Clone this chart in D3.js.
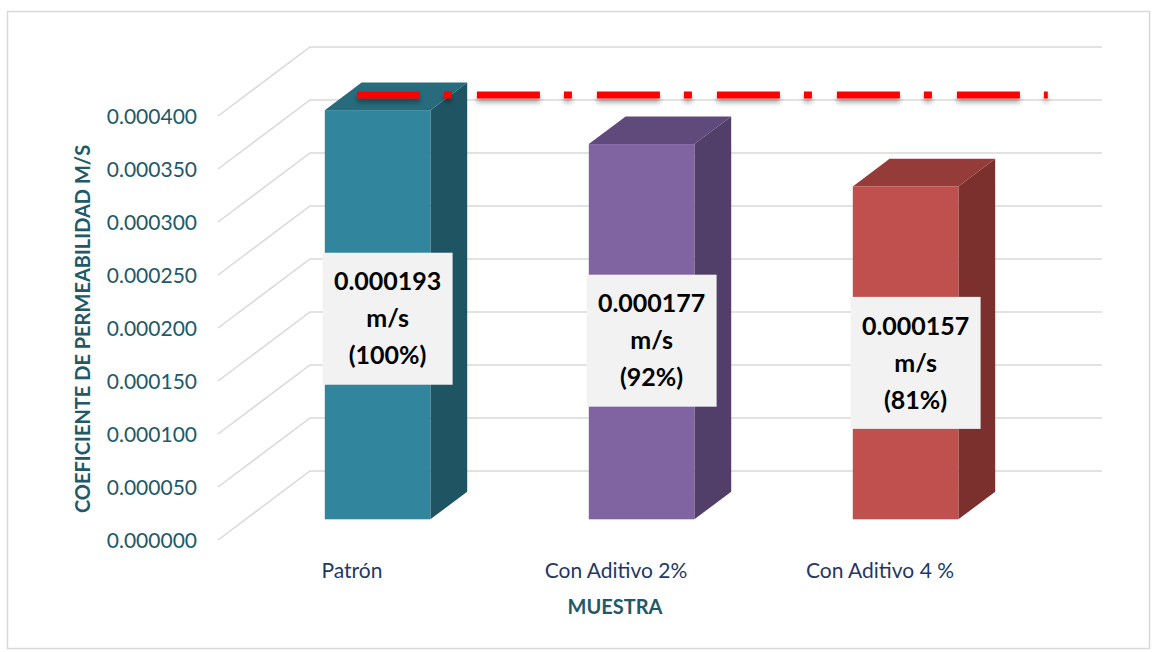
<!DOCTYPE html>
<meta charset="utf-8">
<script src="https://d3js.org/d3.v7.min.js"></script>
<style>
  body { margin: 0; background: #fff; }
  text { font-family: Lato, "Open Sans", sans-serif; }
</style>
<body>
<div id="chart"></div>
<script>
// data
var categories = ["Patrón", "Con Aditivo 2%", "Con Aditivo 4 %"];
var barValues = [0.000386, 0.000354, 0.000314];
var labelValues = ["0.000193", "0.000177", "0.000157"];
var labelPercents = ["(100%)", "(92%)", "(81%)"];
var yTicks = [0, 0.00005, 0.0001, 0.00015, 0.0002, 0.00025, 0.0003, 0.00035, 0.0004];
var referenceValue = 0.000386;

var faceColors = [
  { front: "#31859C", top: "#276B7D", side: "#1F5563" },
  { front: "#8064A2", top: "#604A7B", side: "#523F69" },
  { front: "#C0504D", top: "#953B39", side: "#7C302E" }
];

var width = 1155, height = 652;

// oblique 3D look: depth moves right and up
var depthX = 92, depthY = -69;
var barDepth = [0.3, 0.7];

var svg = d3.select("#chart").append("svg")
  .attr("width", width)
  .attr("height", height);

// soft shadow under the red line (user space, the line has no height)
var defs = svg.append("defs");
var shadow = defs.append("filter").attr("id", "shadow")
  .attr("filterUnits", "userSpaceOnUse")
  .attr("x", 300).attr("y", 60).attr("width", 800).attr("height", 80);
shadow.append("feGaussianBlur").attr("in", "SourceAlpha").attr("stdDeviation", 2.5).attr("result", "b");
shadow.append("feOffset").attr("in", "b").attr("dy", 4).attr("result", "o");
shadow.append("feComponentTransfer").attr("in", "o").attr("result", "s")
  .append("feFuncA").attr("type", "linear").attr("slope", 0.35);
var merge = shadow.append("feMerge");
merge.append("feMergeNode").attr("in", "s");
merge.append("feMergeNode").attr("in", "SourceGraphic");

// outer frame
svg.append("rect")
  .attr("x", 7.5).attr("y", 11.5)
  .attr("width", 1142).attr("height", 637)
  .attr("fill", "none")
  .attr("stroke", "#D9D9D9")
  .attr("stroke-width", 1.5);

var y = d3.scaleLinear().domain([0, 0.0004]).range([540, 116]);
var x = d3.scaleBand().domain(categories).range([218, 1010]);
var band = x.bandwidth();

// gridlines: diagonal on the side wall, horizontal on the back wall
var grid = svg.append("g").attr("stroke", "#D9D9D9").attr("stroke-width", 1.5).attr("fill", "none");
grid.selectAll("path")
  .data(yTicks)
  .enter()
  .append("path")
  .attr("d", function(d) {
    var x0 = x.range()[0], x1 = x.range()[1];
    return "M" + x0 + "," + y(d) +
      "L" + (x0 + depthX) + "," + (y(d) + depthY) +
      "L" + (x1 + depthX) + "," + (y(d) + depthY);
  });

// y tick labels
svg.append("g").selectAll("text")
  .data(yTicks)
  .enter()
  .append("text")
  .attr("x", 197)
  .attr("y", function(d) { return y(d) + 1; })
  .attr("dy", "0.35em")
  .attr("text-anchor", "end")
  .style("font-size", "21px")
  .style("fill", "#215968")
  .text(function(d) { return d3.format(".6f")(d); });

// bars
function pt(px, py) { return px + "," + py; }

var bars = svg.append("g").selectAll("g")
  .data(categories)
  .enter()
  .append("g");

bars.each(function(c, i) {
  var g = d3.select(this);
  var cx = x(c) + band / 2, w = band * 0.4;
  var xl = cx - w / 2 + depthX * barDepth[0];
  var xr = cx + w / 2 + depthX * barDepth[0];
  var yb = y(0) + depthY * barDepth[0];
  var yt = y(barValues[i]) + depthY * barDepth[0];
  var ddx = depthX * (barDepth[1] - barDepth[0]);
  var ddy = depthY * (barDepth[1] - barDepth[0]);
  var col = faceColors[i];

  g.append("polygon")
    .attr("points", [pt(xr, yb), pt(xr + ddx, yb + ddy), pt(xr + ddx, yt + ddy), pt(xr, yt)].join(" "))
    .attr("fill", col.side);
  g.append("polygon")
    .attr("points", [pt(xl, yt), pt(xr, yt), pt(xr + ddx, yt + ddy), pt(xl + ddx, yt + ddy)].join(" "))
    .attr("fill", col.top);
  g.append("rect")
    .attr("x", xl).attr("y", yt)
    .attr("width", xr - xl).attr("height", yb - yt)
    .attr("fill", col.front);
});

// red reference line
var lineDepth = 0.52;
svg.append("line")
  .attr("x1", x.range()[0] + band * 0.345 + depthX * lineDepth)
  .attr("x2", x.range()[0] + band * 2.962 + depthX * lineDepth)
  .attr("y1", y(referenceValue) + depthY * lineDepth)
  .attr("y2", y(referenceValue) + depthY * lineDepth)
  .attr("stroke", "#FF0000")
  .attr("stroke-width", 7)
  .attr("stroke-dasharray", "63,24,8,25")
  .attr("filter", "url(#shadow)");

// data labels
var labelShift = [4, 9, 10];
var labels = svg.append("g").selectAll("g")
  .data(categories)
  .enter()
  .append("g")
  .attr("transform", function(c, i) {
    var cx = x(c) + band / 2 + depthX * barDepth[0] + 10;
    var cy = (y(0) + y(barValues[i])) / 2 + depthY * barDepth[0] + labelShift[i];
    return "translate(" + cx + "," + cy + ")";
  });

labels.append("rect")
  .attr("x", -65).attr("y", -66)
  .attr("width", 130).attr("height", 132)
  .attr("fill", "#F2F2F2");

labels.each(function(c, i) {
  var lines = [labelValues[i], "m/s", labelPercents[i]];
  d3.select(this).selectAll("text")
    .data(lines)
    .enter()
    .append("text")
    .attr("x", 0)
    .attr("y", function(d, k) { return (k - 1) * 37; })
    .attr("dy", "0.35em")
    .attr("text-anchor", "middle")
    .style("font-size", "25px")
    .style("font-weight", "bold")
    .style("fill", "#000")
    .text(function(d) { return d; });
});

// category labels
svg.append("g").selectAll("text")
  .data(categories)
  .enter()
  .append("text")
  .attr("x", function(c) { return x(c) + band / 2 + 2; })
  .attr("y", 578)
  .attr("text-anchor", "middle")
  .style("font-size", "21px")
  .style("fill", "#1F3864")
  .text(function(d) { return d; });

// axis titles
svg.append("text")
  .attr("x", 615)
  .attr("y", 614)
  .attr("text-anchor", "middle")
  .style("font-size", "20px")
  .style("font-weight", "bold")
  .style("fill", "#215968")
  .text("MUESTRA");

svg.append("text")
  .attr("transform", "translate(90,329) rotate(-90)")
  .attr("text-anchor", "middle")
  .style("font-size", "20px")
  .style("font-weight", "bold")
  .style("fill", "#215968")
  .text("COEFICIENTE DE PERMEABILIDAD M/S");
</script>
</body>
